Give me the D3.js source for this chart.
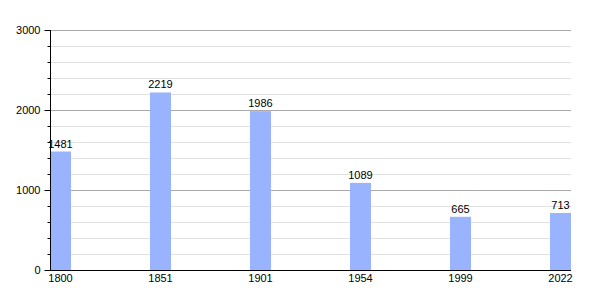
<!DOCTYPE html>
<html>
<head>
<meta charset="utf-8">
<script src="https://cdn.jsdelivr.net/npm/d3@7"></script>
<style>
  body { margin: 0; background: #fff; }
  text { font-family: "Liberation Sans", Arial, sans-serif; font-size: 11px; fill: #000; }
</style>
</head>
<body>
<div id="chart"></div>
<script>
// datos
const years = ["1800", "1851", "1901", "1954", "1999", "2022"];
const population = [1481, 2219, 1986, 1089, 665, 713];
const yTicks = [0, 1000, 2000, 3000];
const yMinorTicks = d3.range(0, 3001, 200);

const width = 600;
const height = 300;

const svg = d3.select("#chart").append("svg")
    .attr("width", width)
    .attr("height", height);

const x = d3.scaleBand().domain(years).range([50, 571])
    .paddingInner(0.79).paddingOuter(0);
const y = d3.scaleLinear().domain([0, 3000]).range([270, 30]);

// rejilla menor y mayor
const grid = svg.append("g");
grid.selectAll("line.minor").data(yMinorTicks.filter(v => v % 1000 !== 0))
    .enter().append("line")
    .attr("x1", 51).attr("x2", 571)
    .attr("y1", d => Math.round(y(d)) + 0.5).attr("y2", d => Math.round(y(d)) + 0.5)
    .attr("stroke", "#e2e2e2");
grid.selectAll("line.major").data(yTicks.filter(v => v > 0))
    .enter().append("line")
    .attr("x1", 51).attr("x2", 571)
    .attr("y1", d => Math.round(y(d)) + 0.5).attr("y2", d => Math.round(y(d)) + 0.5)
    .attr("stroke", "#aaaaaa");

// barras
svg.selectAll("rect").data(population).enter().append("rect")
    .attr("x", (d, i) => x(years[i]))
    .attr("y", d => y(d))
    .attr("width", x.bandwidth())
    .attr("height", d => y(0) - y(d))
    .attr("fill", "#99b3ff");

// etiquetas de valor
svg.selectAll("text.value").data(population).enter().append("text")
    .attr("x", (d, i) => x(years[i]) + x.bandwidth() / 2)
    .attr("y", d => y(d) - 4)
    .attr("text-anchor", "middle")
    .text(d => d);

// eje y
const yAxisGroup = svg.append("g").attr("transform", "translate(50.5,0)");
yAxisGroup.call(d3.axisLeft(y).tickValues(yMinorTicks).tickSize(3).tickFormat(""));
yAxisGroup.call(g => g.select(".domain").remove());
yAxisGroup.append("g").call(d3.axisLeft(y).tickValues(yTicks).tickSize(6).tickPadding(4).tickFormat(d3.format("d")))
    .call(g => g.select(".domain").attr("d", "M0,30V270"));
yAxisGroup.selectAll("text").style("font-size", "11px").style("font-family", "Liberation Sans, Arial, sans-serif").attr("fill", "#000");
yAxisGroup.selectAll("line, path").attr("stroke", "#000");

// eje x
const xAxisGroup = svg.append("g").attr("transform", "translate(0,270.5)");
xAxisGroup.call(d3.axisBottom(x).tickSize(0).tickPadding(4))
    .call(g => g.select(".domain").attr("d", "M50,0H571"));
xAxisGroup.selectAll("text").style("font-size", "11px").style("font-family", "Liberation Sans, Arial, sans-serif").attr("fill", "#000");
xAxisGroup.selectAll("path").attr("stroke", "#000");
</script>
</body>
</html>
